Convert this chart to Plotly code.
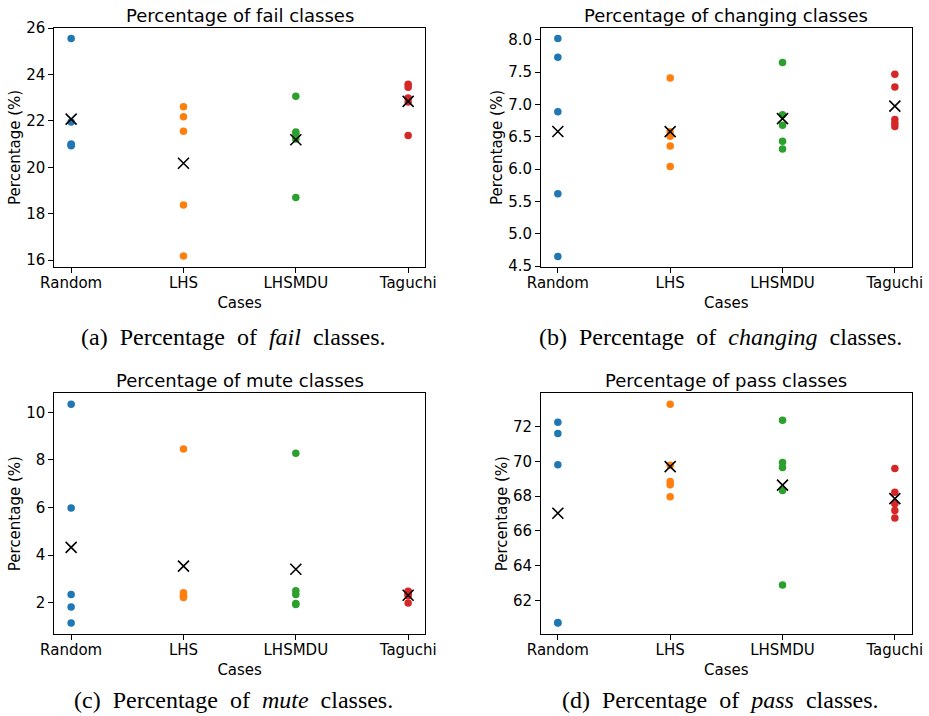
import numpy as np
import plotly.graph_objects as go

cases = ["Random", "LHS", "LHSMDU", "Taguchi"]
colors = ["#1f77b4", "#ff7f0e", "#2ca02c", "#d62728"]

fail = {
    "Random": [25.55, 21.95, 20.93, 20.97, 21.00],
    "LHS": [22.61, 22.18, 21.55, 18.37, 16.17],
    "LHSMDU": [23.06, 21.52, 21.45, 21.22, 18.70],
    "Taguchi": [23.58, 23.45, 22.99, 22.81, 21.37],
}
changing = {
    "Random": [8.02, 7.73, 6.89, 5.62, 4.65],
    "LHS": [7.41, 6.58, 6.51, 6.36, 6.04],
    "LHSMDU": [7.65, 6.84, 6.68, 6.43, 6.31],
    "Taguchi": [7.47, 7.27, 6.77, 6.71, 6.66],
}
mute = {
    "Random": [10.34, 5.98, 2.35, 1.82, 1.15],
    "LHS": [8.46, 2.42, 2.33, 2.27, 2.22],
    "LHSMDU": [8.28, 2.51, 2.35, 1.97, 1.93],
    "Taguchi": [2.49, 2.45, 2.35, 2.30, 1.99],
}
pass_ = {
    "Random": [72.25, 71.60, 69.80, 60.74, 60.71],
    "LHS": [73.28, 69.77, 68.84, 68.65, 67.96],
    "LHSMDU": [72.36, 69.93, 69.64, 68.32, 62.90],
    "Taguchi": [69.59, 68.23, 67.56, 67.17, 66.75],
}

titles = ["Percentage of fail classes", "Percentage of changing classes",
          "Percentage of mute classes", "Percentage of pass classes"]
captions = ["(a)  Percentage  of  <i>fail</i>  classes.",
            "(b)  Percentage  of  <i>changing</i>  classes.",
            "(c)  Percentage  of  <i>mute</i>  classes.",
            "(d)  Percentage  of  <i>pass</i>  classes."]
yticks = [[16, 18, 20, 22, 24, 26],
          [4.5, 5.0, 5.5, 6.0, 6.5, 7.0, 7.5, 8.0],
          [2, 4, 6, 8, 10],
          [62, 64, 66, 68, 70, 72]]
tickfmt = ["d", ".1f", "d", "d"]
datasets = [fail, changing, mute, pass_]

W, H = 929, 716
# plot areas in pixels: (left, right, top, bottom)
boxes = [(54.3, 425.0, 27.7, 267.0), (541.0, 911.7, 27.7, 267.3),
         (54.3, 425.0, 393.3, 634.0), (541.0, 911.7, 393.3, 634.0)]
cap_x = [233, 720, 233, 720]
cap_y = [337, 337, 700, 700]

fig = go.Figure()
layout = dict(width=W, height=H, margin=dict(l=0, r=0, t=0, b=0, pad=0),
              paper_bgcolor="white", plot_bgcolor="white", showlegend=False,
              font=dict(family="DejaVu Sans", size=15, color="black"))
annotations = []

for i, data in enumerate(datasets):
    n = i + 1
    xa = "x" if n == 1 else f"x{n}"
    ya = "y" if n == 1 else f"y{n}"
    for c, col in zip(cases, colors):
        fig.add_trace(go.Scatter(x=[c] * len(data[c]), y=data[c], mode="markers",
                                 marker=dict(color=col, size=7.5, line=dict(width=0)),
                                 xaxis=xa, yaxis=ya, hoverinfo="skip"))
    means = [float(np.mean(data[c])) for c in cases]
    fig.add_trace(go.Scatter(x=cases, y=means, mode="markers",
                             marker=dict(symbol="x-thin-open", size=11, color="black",
                                         line=dict(width=1.6, color="black")),
                             xaxis=xa, yaxis=ya, hoverinfo="skip"))
    allv = np.concatenate([np.array(data[c]) for c in cases])
    lo, hi = allv.min(), allv.max()
    pad = 0.05 * (hi - lo)
    l, r, t, b = boxes[i]
    xdom = [l / W, r / W]
    ydom = [1 - b / H, 1 - t / H]
    axis_common = dict(showline=True, linecolor="black", linewidth=1, mirror=True,
                       ticks="outside", ticklen=5, tickwidth=1, tickcolor="black",
                       showgrid=False, zeroline=False, automargin=False,
                       tickfont=dict(family="DejaVu Sans", size=15, color="black"))
    layout["xaxis" if n == 1 else f"xaxis{n}"] = dict(
        domain=xdom, anchor=ya, type="category", categoryorder="array",
        categoryarray=cases, range=[-0.15, 3.15], ticklabelstandoff=-3,
        title=dict(text="Cases", font=dict(family="DejaVu Sans", size=15), standoff=6),
        **axis_common)
    layout["yaxis" if n == 1 else f"yaxis{n}"] = dict(
        domain=ydom, anchor=xa, range=[lo - pad, hi + pad],
        tickvals=yticks[i], tickformat=tickfmt[i],
        title=dict(text="Percentage (%)", font=dict(family="DejaVu Sans", size=15), standoff=1),
        **axis_common)
    annotations.append(dict(text=titles[i], x=(l + r) / 2 / W, y=1 - (t - 12.5) / H,
                            xref="paper", yref="paper", xanchor="center", yanchor="middle",
                            showarrow=False, font=dict(family="DejaVu Sans", size=18, color="black")))
    annotations.append(dict(text=captions[i], x=cap_x[i] / W, y=1 - cap_y[i] / H,
                            xref="paper", yref="paper", xanchor="center", yanchor="middle",
                            showarrow=False,
                            font=dict(family="Liberation Serif", size=24, color="black")))

layout["annotations"] = annotations
fig.update_layout(**layout)
fig.write_html("out.html")
